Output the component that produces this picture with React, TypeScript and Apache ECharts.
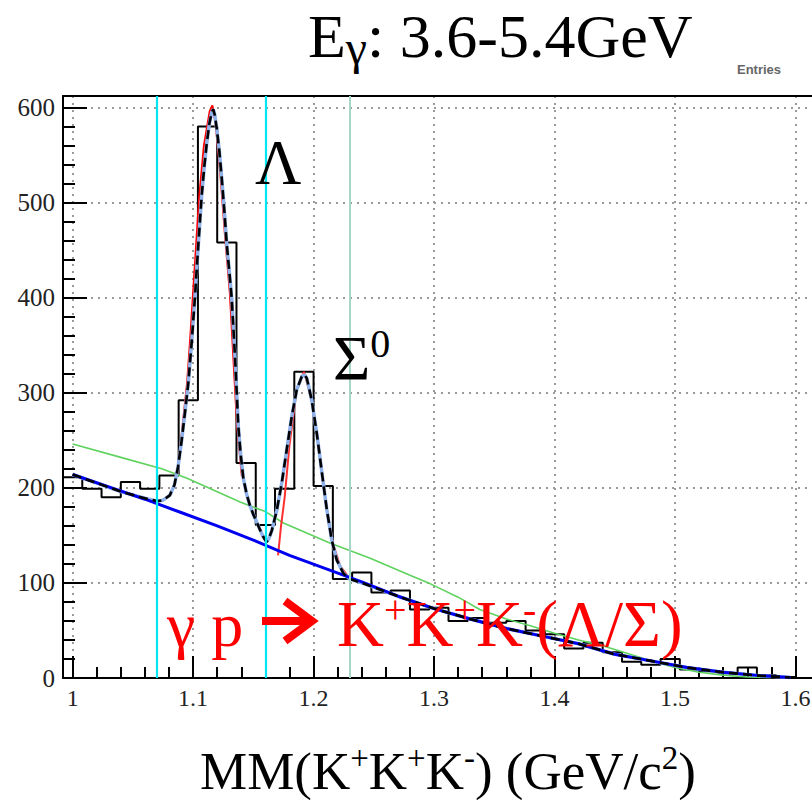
import React, { useEffect, useRef } from "react";
import * as echarts from "echarts";

// ---- axis ranges & binning ----
const X_MIN = 0.992;
const X_MAX = 1.632;
const BIN_WIDTH = 0.016;
const Y_MIN = 0;
const Y_MAX = 612;

const xTickValues = [1.0, 1.1, 1.2, 1.3, 1.4, 1.5, 1.6];
const xTickLabels = ["1", "1.1", "1.2", "1.3", "1.4", "1.5", "1.6"];
const yTickValues = [0, 100, 200, 300, 400, 500, 600];
const yTickLabels = ["0", "100", "200", "300", "400", "500", "600"];

// ---- histogram counts (40 bins of 0.016 starting at 0.992) ----
const histCounts = [
  211, 199, 190, 206, 199, 213, 292, 580, 458, 226,
  161, 199, 322, 202, 104, 111, 90, 92, 72, 74,
  60, 63, 58, 60, 50, 46, 31, 37, 27, 17,
  14, 20, 9, 7, 5, 11, 3, 1, 0, 0,
];

// ---- total fit (black dashed over light blue) ----
const totalFitX = [
  1.0, 1.02, 1.04, 1.06, 1.07, 1.075, 1.0806, 1.0845, 1.0875, 1.0905,
  1.0935, 1.096, 1.0988, 1.1016, 1.1043, 1.1071, 1.1093, 1.1113, 1.1135, 1.1155,
  1.1167, 1.118, 1.1196, 1.1217, 1.1238, 1.126, 1.128, 1.13, 1.132, 1.1349,
  1.1375, 1.1395, 1.1417, 1.1445, 1.147, 1.15, 1.1528, 1.1555, 1.158, 1.161,
  1.163, 1.1653, 1.1694, 1.1736, 1.1777, 1.1819, 1.186, 1.1902, 1.1925, 1.1944,
  1.1985, 1.2027, 1.2068, 1.211, 1.2151, 1.2193, 1.2248, 1.2303, 1.24, 1.27,
  1.3, 1.33, 1.36, 1.39, 1.42, 1.45, 1.48, 1.51, 1.54, 1.57, 1.596,
];
const totalFitY = [
  214, 205, 196, 189, 186, 187, 192, 203, 222, 250,
  282, 310, 353, 402, 455, 507, 538, 562, 583, 595,
  598, 592, 578, 555, 525, 490, 455, 428, 400, 335,
  265, 235, 210, 193, 182, 172, 164, 156, 149, 143,
  147, 155, 176, 205, 240, 275, 303, 317, 319, 315,
  292, 257, 217, 177, 145, 124, 110, 104, 100, 86,
  73, 62, 52, 44, 36, 25, 18, 11, 6, 2.5, 0.5,
];

// ---- background (blue) ----
const bkgX = [
  1.0, 1.03, 1.06, 1.09, 1.12, 1.15, 1.18, 1.21, 1.24, 1.27,
  1.3, 1.33, 1.36, 1.39, 1.42, 1.45, 1.48, 1.51, 1.54, 1.57, 1.596,
];
const bkgY = [
  214, 201, 188, 174, 160, 145, 129, 115, 101, 86,
  73, 62, 52, 44, 36, 25, 18, 11, 6, 2.5, 0.5,
];

// ---- green curve ----
const greenX = [
  1.0, 1.04, 1.074, 1.095, 1.139, 1.16, 1.175, 1.2135, 1.247, 1.28,
  1.297, 1.32, 1.338, 1.36, 1.38, 1.4, 1.42, 1.44, 1.46, 1.48,
  1.5, 1.52, 1.54, 1.56, 1.58,
];
const greenY = [
  246, 232, 220, 210, 185, 175, 163, 142, 126, 108,
  99, 85, 72, 62, 55, 47, 40, 34, 26, 18,
  11, 6, 3, 1, 0.3,
];

// ---- red fits (Λ and Σ regions) ----
const redLambdaX = [
  1.087, 1.091, 1.095, 1.0975, 1.1, 1.1025, 1.105, 1.109, 1.1138, 1.116,
  1.1185, 1.1225, 1.1265, 1.1305, 1.1335, 1.1365, 1.1405,
];
const redLambdaY = [
  215, 262, 310, 355, 405, 455, 505, 560, 596, 602,
  585, 532, 465, 405, 335, 265, 212,
];
const redSigmaX = [
  1.1705, 1.173, 1.176, 1.18, 1.186, 1.192, 1.198, 1.204, 1.21, 1.216, 1.222, 1.228,
];
const redSigmaY = [129, 160, 190, 245, 303, 322, 295, 245, 185, 142, 118, 108];

// ---- vertical cut lines ----
const cyanCuts = [1.074, 1.1595];
const paleCut = [1.2275];

const SERIF = "Liberation Serif";

function pairs(xs: number[], ys: number[]) {
  return xs.map((x, i) => [x, ys[i]]);
}

function labelFor(values: number[], labels: string[]) {
  return (v: number) => {
    for (let i = 0; i < values.length; i++) {
      if (Math.abs(values[i] - v) < 1e-6) return labels[i];
    }
    return "";
  };
}

export default function App() {
  const ref = useRef<HTMLDivElement>(null);

  useEffect(() => {
    if (!ref.current) return;
    const chart = echarts.init(ref.current, undefined, { renderer: "svg" });

    const histPoints: number[][] = histCounts.map((c, i) => [
      +(X_MIN + i * BIN_WIDTH).toFixed(4),
      c,
    ]);
    histPoints.push([X_MAX, histCounts[histCounts.length - 1]]);

    const tickColor = "#000";
    const red = "#ff0000";

    const option: any = {
      animation: false,
      backgroundColor: "#fff",
      grid: {
        left: 63,
        top: 96,
        right: 26,
        bottom: 122,
        show: false,
      },
      xAxis: [
        {
          type: "value",
          min: X_MIN,
          max: X_MAX,
          splitNumber: 6,
          axisLine: { show: true, onZero: false, lineStyle: { color: tickColor, width: 2 } },
          axisTick: { show: true, inside: true, length: 22, lineStyle: { color: tickColor, width: 2 } },
          minorTick: { show: true, splitNumber: 5, length: 11, lineStyle: { color: tickColor, width: 2 } },
          splitLine: { show: true, lineStyle: { color: "#9a9a9a", width: 2, type: [2, 5] } },
          axisLabel: {
            showMinLabel: false,
            showMaxLabel: false,
            margin: 8,
            fontFamily: SERIF,
            fontSize: 24,
            color: "#222",
            formatter: labelFor(xTickValues, xTickLabels),
          },
          z: 3,
        },
        {
          type: "value",
          position: "top",
          min: X_MIN,
          max: X_MAX,
          splitNumber: 6,
          axisLine: { show: true, onZero: false, lineStyle: { color: tickColor, width: 2 } },
          axisTick: { show: false },
          splitLine: { show: false },
          axisLabel: { show: false },
          z: 3,
        },
      ],
      yAxis: [
        {
          type: "value",
          min: Y_MIN,
          max: Y_MAX,
          interval: 100,
          axisLine: { show: true, lineStyle: { color: tickColor, width: 2 } },
          axisTick: { show: true, inside: true, length: 24, lineStyle: { color: tickColor, width: 2 } },
          minorTick: { show: true, splitNumber: 5, length: 12, lineStyle: { color: tickColor, width: 2 } },
          splitLine: { show: true, lineStyle: { color: "#9a9a9a", width: 2, type: [2, 5] } },
          axisLabel: {
            showMaxLabel: false,
            margin: 8,
            fontFamily: SERIF,
            fontSize: 25,
            color: "#222",
            formatter: labelFor(yTickValues, yTickLabels),
          },
          z: 3,
        },
        {
          type: "value",
          position: "right",
          min: Y_MIN,
          max: Y_MAX,
          interval: 100,
          axisLine: { show: true, lineStyle: { color: tickColor, width: 2 } },
          axisTick: { show: false },
          splitLine: { show: false },
          axisLabel: { show: false },
          z: 3,
        },
      ],
      series: [
        {
          type: "line",
          name: "hist",
          step: "end",
          data: histPoints,
          symbol: "none",
          lineStyle: { color: "#000", width: 2 },
        },
        {
          type: "line",
          name: "green",
          data: pairs(greenX, greenY),
          symbol: "none",
          lineStyle: { color: "#5fd35f", width: 1.6 },
        },
        {
          type: "line",
          name: "redLambda",
          data: pairs(redLambdaX, redLambdaY),
          symbol: "none",
          lineStyle: { color: red, width: 2 },
        },
        {
          type: "line",
          name: "redSigma",
          data: pairs(redSigmaX, redSigmaY),
          symbol: "none",
          lineStyle: { color: "#ff3030", width: 2 },
        },
        {
          type: "line",
          name: "totalFitBase",
          data: pairs(totalFitX, totalFitY),
          symbol: "none",
          lineStyle: { color: "#8fb2ea", width: 3.5 },
        },
        {
          type: "line",
          name: "bkg",
          data: pairs(bkgX, bkgY),
          symbol: "none",
          lineStyle: { color: "#0000f0", width: 3 },
        },
        {
          type: "line",
          name: "totalFitDash",
          data: pairs(totalFitX, totalFitY),
          symbol: "none",
          lineStyle: { color: "#000", width: 2.6, type: [9, 5] },
          markLine: {
            silent: true,
            symbol: "none",
            label: { show: false },
            data: [
              ...cyanCuts.map((v) => ({
                xAxis: v,
                lineStyle: { color: "#00e6f2", width: 2.2, type: "solid" },
              })),
              ...paleCut.map((v) => ({
                xAxis: v,
                lineStyle: { color: "#a6d6c8", width: 2, type: "solid" },
              })),
            ],
          },
        },
      ],
      graphic: [
        {
          type: "text",
          x: 308,
          y: 1,
          style: {
            text: "{m|E}{sub|γ}{m|: 3.6-5.4GeV}",
            verticalAlign: "top",
            rich: {
              m: { fontFamily: SERIF, fontSize: 62, lineHeight: 70, fill: "#000" },
              sub: { fontFamily: SERIF, fontSize: 48, lineHeight: 48, verticalAlign: "bottom", fill: "#000" },
            },
          },
          z: 100,
        },
        {
          type: "text",
          x: 737,
          y: 63,
          style: {
            text: "Entries",
            fontFamily: "Liberation Sans",
            fontSize: 13,
            fontWeight: "bold",
            fill: "#666",
            verticalAlign: "top",
          },
          z: 100,
        },
        {
          type: "text",
          x: 255,
          y: 127,
          style: {
            text: "{m|Λ}",
            verticalAlign: "top",
            rich: { m: { fontFamily: SERIF, fontSize: 64, lineHeight: 70, fill: "#000" } },
          },
          z: 100,
        },
        {
          type: "text",
          x: 333,
          y: 323,
          style: {
            text: "{m|Σ}{sup|0}",
            verticalAlign: "top",
            rich: {
              m: { fontFamily: SERIF, fontSize: 64, lineHeight: 70, fill: "#000" },
              sup: { fontFamily: SERIF, fontSize: 40, lineHeight: 40, verticalAlign: "top", fill: "#000" },
            },
          },
          z: 100,
        },
        {
          type: "text",
          x: 167,
          y: 589,
          style: {
            text: "{m|γ p}",
            verticalAlign: "top",
            rich: {
              m: { fontFamily: SERIF, fontSize: 64, lineHeight: 70, fill: red },
            },
          },
          z: 100,
        },
        {
          type: "line",
          shape: { x1: 262, y1: 621, x2: 308, y2: 621 },
          style: { stroke: red, lineWidth: 8 },
          z: 100,
        },
        {
          type: "polyline",
          shape: { points: [[285, 601], [312, 621], [285, 641]] },
          style: { stroke: red, lineWidth: 8, fill: null, lineJoin: "miter" },
          z: 100,
        },
        {
          type: "text",
          x: 337,
          y: 589,
          style: {
            text: "{m|K}{sup|+}{m|K}{sup|+}{m|K}{sup|-}{m|(Λ/Σ)}",
            verticalAlign: "top",
            rich: {
              m: { fontFamily: SERIF, fontSize: 65, lineHeight: 70, fill: red },
              sup: { fontFamily: SERIF, fontSize: 40, lineHeight: 48, verticalAlign: "top", fill: red },
            },
          },
          z: 100,
        },
        {
          type: "text",
          x: 200,
          y: 741,
          style: {
            text: "{m|MM(K}{sup|+}{m|K}{sup|+}{m|K}{sup|-}{m|) (GeV/c}{sup|2}{m|)}",
            verticalAlign: "top",
            rich: {
              m: { fontFamily: SERIF, fontSize: 53, lineHeight: 60, fill: "#000" },
              sup: { fontFamily: SERIF, fontSize: 33, lineHeight: 38, verticalAlign: "top", fill: "#000" },
            },
          },
          z: 100,
        },
      ],
    };

    chart.setOption(option);
    return () => {
      chart.dispose();
    };
  }, []);

  return (
    <div
      style={{
        position: "fixed",
        left: 0,
        top: 0,
        width: 812,
        height: 800,
        overflow: "hidden",
        background: "#fff",
      }}
    >
      <div ref={ref} style={{ width: 860, height: 800 }} />
    </div>
  );
}
